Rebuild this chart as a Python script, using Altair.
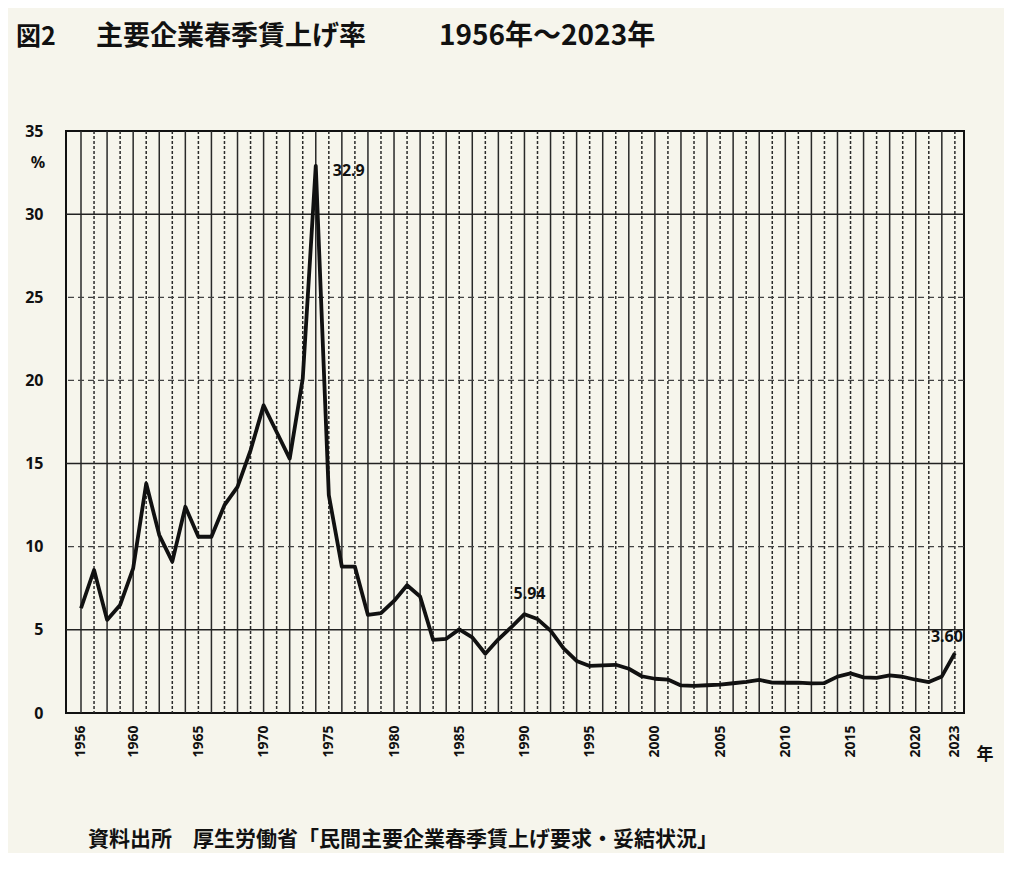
import altair as alt
import pandas as pd

# ---- data ----
years = list(range(1956, 2024))
rates = [6.3, 8.6, 5.6, 6.5, 8.7, 13.8, 10.7, 9.1, 12.4, 10.6,
         10.6, 12.5, 13.6, 15.8, 18.5, 16.9, 15.3, 20.1, 32.9, 13.1,
         8.8, 8.8, 5.9, 6.0, 6.74, 7.68, 7.01, 4.40, 4.46, 5.03,
         4.55, 3.56, 4.43, 5.17, 5.94, 5.65, 4.95, 3.89, 3.13, 2.83,
         2.86, 2.90, 2.66, 2.21, 2.06, 2.01, 1.66, 1.63, 1.67, 1.71,
         1.79, 1.87, 1.99, 1.83, 1.82, 1.83, 1.78, 1.80, 2.19, 2.38,
         2.14, 2.11, 2.26, 2.18, 2.00, 1.86, 2.20, 3.60]
x_tick_values = [1956, 1960, 1965, 1970, 1975, 1980, 1985, 1990, 1995,
                 2000, 2005, 2010, 2015, 2020, 2023]
y_tick_values = [0, 5, 10, 15, 20, 25, 30, 35]
hgrid_solid = [5, 15, 30]
hgrid_dashed = [10, 20, 25]

title_a = "図2"
title_b = "主要企業春季賃上げ率"
title_c = "1956年～2023年"
footer = "資料出所　厚生労働省「民間主要企業春季賃上げ要求・妥結状況」"

df = pd.DataFrame({"year": years, "rate": rates})
vgrid = pd.DataFrame({"year": years,
                      "style": ["s" if i % 2 == 0 else "d" for i in range(len(years))]})

NUM_FONT = "Noto Sans"
JP_FONT = "Noto Sans CJK JP"
INK = "#111111"

xscale = alt.Scale(domain=[1954.85, 2023.7], nice=False, zero=False)
yscale = alt.Scale(domain=[0, 35], nice=False)
xaxis = alt.Axis(values=x_tick_values, format="d", labelAngle=270, labelFontSize=14,
                 labelFontWeight="bold", labelFont=NUM_FONT, labelColor=INK,
                 labelPadding=12, ticks=False, domain=False, grid=False, title=None)
yaxis = alt.Axis(values=y_tick_values, labelFontSize=16, labelFontWeight="bold",
                 labelFont=NUM_FONT, labelColor=INK, labelPadding=23, ticks=False,
                 domain=False, grid=False, title=None)

X = alt.X("year:Q", scale=xscale, axis=xaxis)
Y = alt.Y("rate:Q", scale=yscale, axis=yaxis)

vlines = alt.Chart(vgrid).mark_rule(color="#2a2a2a", strokeWidth=1.5).encode(
    x=X,
    strokeDash=alt.StrokeDash("style:N", scale=alt.Scale(domain=["s", "d"], range=[[1, 0], [3, 2]]),
                              legend=None),
)
hsolid = alt.Chart(pd.DataFrame({"rate": hgrid_solid})).mark_rule(
    color="#222222", strokeWidth=1.5).encode(y=Y)
hdash = alt.Chart(pd.DataFrame({"rate": hgrid_dashed})).mark_rule(
    color="#444444", strokeWidth=1.2, strokeDash=[6, 4]).encode(y=Y)

line = alt.Chart(df).mark_line(color="#111111", strokeWidth=3.8, strokeJoin="round").encode(x=X, y=Y)


def ann(year, dx, dy, align):
    sub = df[df["year"] == year].copy()
    sub["label"] = f"{sub['rate'].iloc[0]:.2f}" if year != 1974 else "32.9"
    return alt.Chart(sub).mark_text(font=NUM_FONT, fontSize=16, fontWeight="bold", color=INK,
                                    dx=dx, dy=dy, align=align, baseline="middle").encode(
        x=X, y=Y, text="label:N")


a1 = ann(1974, 17, 5, "left")
a2 = ann(1990, 5, -20, "center")
a3 = ann(2023, -8, -16, "center")


def deco(txt, x, y, size, align="left", font=JP_FONT, weight="bold"):
    return alt.Chart(pd.DataFrame({"t": [txt]})).mark_text(
        font=font, fontSize=size, fontWeight=weight, color=INK, align=align, baseline="middle"
    ).encode(x=alt.value(x), y=alt.value(y), text="t:N")


t1 = deco(title_a, -50, -94, 25)
t2 = deco(title_b, 30, -94, 27)
t3 = deco(title_c, 373, -94, 28, weight=600)
pct = deco("%", -28, 32, 16, align="center", font=NUM_FONT)
nen = deco("年", 919, 624, 17, align="center")
foot = deco(footer, 22, 709, 21)

chart = alt.layer(vlines, hsolid, hdash, line, a1, a2, a3, t1, t2, t3, pct, nen, foot).properties(
    width=898, height=582,
    padding={"left": 58, "top": 123, "right": 40, "bottom": 140},
    autosize=alt.AutoSizeParams(type="none"),
    background="#f6f5ec",
).configure_view(stroke="#111111", strokeWidth=2)

chart.save("out.html", embed_options={"renderer": "svg", "actions": False})
